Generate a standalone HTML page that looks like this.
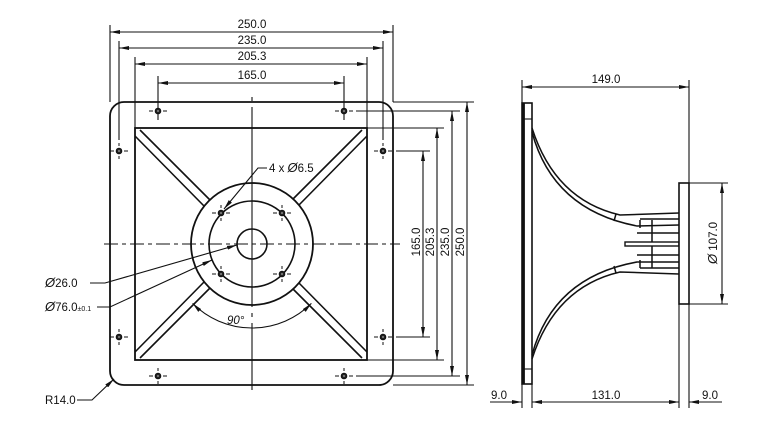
<!DOCTYPE html>
<html><head><meta charset="utf-8"><style>
html,body{margin:0;padding:0;background:#fff;}
svg{display:block}
text{font-family:"Liberation Sans",Arial,sans-serif;font-size:11.5px;fill:#111}
</style></head><body>
<svg width="775" height="430" viewBox="0 0 775 430" xmlns="http://www.w3.org/2000/svg">
<defs>
<marker id="a" viewBox="0 0 10 4" refX="10" refY="2" markerWidth="10" markerHeight="4" orient="auto-start-reverse" markerUnits="userSpaceOnUse"><path d="M0,0 L10,2 L0,4z" fill="#111"/></marker>
<g id="h"><circle r="2.8" fill="#222" stroke="#111" stroke-width="1"/><circle r="1" fill="#888" stroke="none"/><line x1="-9" y1="0" x2="-5" y2="0"/><line x1="5" y1="0" x2="9" y2="0"/><line x1="0" y1="-8" x2="0" y2="-5"/><line x1="0" y1="5" x2="0" y2="8"/></g>
</defs>
<g stroke="#111" fill="none" stroke-width="1.1">
<!-- top dims -->
<line x1="110" y1="25" x2="110" y2="102"/><line x1="393" y1="25" x2="393" y2="102"/>
<line x1="119" y1="41" x2="119" y2="140"/><line x1="383" y1="41" x2="383" y2="140"/>
<line x1="135" y1="57" x2="135" y2="128"/><line x1="367" y1="57" x2="367" y2="128"/>
<line x1="158" y1="76" x2="158" y2="120"/><line x1="344" y1="76" x2="344" y2="120"/>
<line x1="110" y1="32" x2="393" y2="32" marker-start="url(#a)" marker-end="url(#a)"/>
<line x1="119" y1="48" x2="383" y2="48" marker-start="url(#a)" marker-end="url(#a)"/>
<line x1="135" y1="64" x2="367" y2="64" marker-start="url(#a)" marker-end="url(#a)"/>
<line x1="158" y1="83" x2="344" y2="83" marker-start="url(#a)" marker-end="url(#a)"/>
<!-- right dims -->
<line x1="393" y1="102" x2="474" y2="102"/><line x1="393" y1="385" x2="474" y2="385"/>
<line x1="356" y1="111" x2="460" y2="111"/><line x1="356" y1="376" x2="460" y2="376"/>
<line x1="367" y1="128" x2="444" y2="128"/><line x1="367" y1="360" x2="444" y2="360"/>
<line x1="396" y1="151" x2="430" y2="151"/><line x1="396" y1="337" x2="430" y2="337"/>
<line x1="423" y1="151" x2="423" y2="337" marker-start="url(#a)" marker-end="url(#a)"/>
<line x1="437" y1="128" x2="437" y2="360" marker-start="url(#a)" marker-end="url(#a)"/>
<line x1="452" y1="111" x2="452" y2="376" marker-start="url(#a)" marker-end="url(#a)"/>
<line x1="467" y1="102" x2="467" y2="385" marker-start="url(#a)" marker-end="url(#a)"/>
<!-- outer plate -->
<rect x="110" y="102" width="283" height="283" rx="14" stroke-width="1.8"/>
<rect x="135" y="128" width="232" height="232" stroke-width="1.8"/>
<!-- ribs -->
<g stroke-width="1.6">
<line x1="140" y1="130" x2="212" y2="202"/><line x1="135" y1="136" x2="205" y2="207"/>
<line x1="362" y1="130" x2="290" y2="202"/><line x1="367" y1="136" x2="297" y2="207"/>
<line x1="140" y1="358" x2="212" y2="286"/><line x1="135" y1="352" x2="205" y2="281"/>
<line x1="362" y1="358" x2="290" y2="286"/><line x1="367" y1="352" x2="297" y2="281"/>
</g>
<circle cx="252" cy="244" r="61" stroke-width="1.8" fill="#fff"/>
<circle cx="252" cy="244" r="43" stroke-width="1.6"/>
<circle cx="252" cy="244" r="15" stroke-width="1.6"/>
<!-- centerlines -->
<line x1="104" y1="244" x2="400" y2="244" stroke-dasharray="14,4,4,4"/>
<line x1="252" y1="97" x2="252" y2="390" stroke-dasharray="4,6,200,6,4,6,100"/>
<!-- 90 arc -->
<path d="M192.6,303.4 A84,84 0 0 0 311.4,303.4" marker-start="url(#a)" marker-end="url(#a)"/>
<!-- leaders -->
<polyline points="267,168 258,168 224,209" marker-end="url(#a)"/>
<polyline points="90,283 105,283 237,245" marker-end="url(#a)"/>
<polyline points="97,307 110,307 212,260" marker-end="url(#a)"/>
<polyline points="77,400 92,400 114,379" marker-end="url(#a)"/>
<!-- side view -->
<line x1="522" y1="80" x2="522" y2="103"/><line x1="689" y1="80" x2="689" y2="183"/>
<line x1="522" y1="87" x2="689" y2="87" marker-start="url(#a)" marker-end="url(#a)"/>
<rect x="522" y="103" width="10" height="281" stroke-width="1.6"/>
<line x1="523.5" y1="103" x2="523.5" y2="384" stroke-width="2.8"/>
<line x1="532" y1="119" x2="522" y2="119"/><line x1="532" y1="369" x2="522" y2="369"/>
<g stroke-width="1.5">
<path d="M532,128 Q555,200 620,215 L679,213"/>
<path d="M532,132 Q553,210 637,226 L679,225"/>
<path d="M532,359 Q555,287 620,272 L679,274"/>
<path d="M532,355 Q553,277 637,262 L679,262"/>
<line x1="616" y1="214" x2="614" y2="221"/><line x1="616" y1="273" x2="614" y2="266"/>
<line x1="640" y1="219" x2="679" y2="219"/><line x1="640" y1="268" x2="679" y2="268"/>
<line x1="640" y1="220" x2="640" y2="228"/><line x1="640" y1="260" x2="640" y2="268"/>
<line x1="652" y1="220" x2="652" y2="268"/>
<line x1="637" y1="233" x2="679" y2="233"/><line x1="637" y1="255" x2="679" y2="255"/>
</g>
<rect x="625" y="242" width="54" height="4" stroke-width="1.4" fill="#fff"/>
<rect x="679" y="183" width="10" height="121" stroke-width="1.6" fill="#fff"/>
<line x1="689" y1="183" x2="728" y2="183"/><line x1="689" y1="304" x2="728" y2="304"/>
<line x1="722" y1="183" x2="722" y2="304" marker-start="url(#a)" marker-end="url(#a)"/>
<line x1="522" y1="384" x2="522" y2="408"/><line x1="532" y1="384" x2="532" y2="408"/>
<line x1="679" y1="304" x2="679" y2="408"/><line x1="689" y1="304" x2="689" y2="408"/>
<line x1="490" y1="402" x2="522" y2="402" marker-end="url(#a)"/>
<line x1="532" y1="402" x2="679" y2="402" marker-start="url(#a)" marker-end="url(#a)"/>
<line x1="722" y1="402" x2="689" y2="402" marker-end="url(#a)"/>
</g>
<!-- holes -->
<g stroke="#111" stroke-width="1">
<use href="#h" x="158" y="111"/><use href="#h" x="344" y="111"/>
<use href="#h" x="158" y="376"/><use href="#h" x="344" y="376"/>
<use href="#h" x="119" y="151"/><use href="#h" x="383" y="151"/>
<use href="#h" x="119" y="337"/><use href="#h" x="383" y="337"/>
<use href="#h" x="221" y="213"/><use href="#h" x="282" y="213"/>
<use href="#h" x="221" y="274"/><use href="#h" x="282" y="274"/>
</g>
<!-- text -->
<text x="252" y="28" text-anchor="middle">250.0</text>
<text x="252" y="44" text-anchor="middle">235.0</text>
<text x="252" y="60" text-anchor="middle">205.3</text>
<text x="252" y="79" text-anchor="middle">165.0</text>
<text transform="translate(420,242) rotate(-90)" text-anchor="middle">165.0</text>
<text transform="translate(434,242) rotate(-90)" text-anchor="middle">205.3</text>
<text transform="translate(449,242) rotate(-90)" text-anchor="middle">235.0</text>
<text transform="translate(464,242) rotate(-90)" text-anchor="middle">250.0</text>
<text x="269" y="172">4 x <tspan font-style="italic" font-size="13">Ø</tspan>6.5</text>
<text x="45" y="287"><tspan font-style="italic" font-size="13">Ø</tspan>26.0</text>
<text x="45" y="311"><tspan font-style="italic" font-size="13">Ø</tspan>76.0<tspan font-size="7">±0.1</tspan></text>
<text x="227" y="324" font-style="italic">90°</text>
<text x="45" y="404">R14.0</text>
<text x="606" y="83" text-anchor="middle">149.0</text>
<text transform="translate(717,243) rotate(-90)" text-anchor="middle"><tspan font-style="italic" font-size="13">Ø</tspan> 107.0</text>
<text x="491" y="399">9.0</text>
<text x="606" y="399" text-anchor="middle">131.0</text>
<text x="702" y="399">9.0</text>
</svg>
</body></html>
